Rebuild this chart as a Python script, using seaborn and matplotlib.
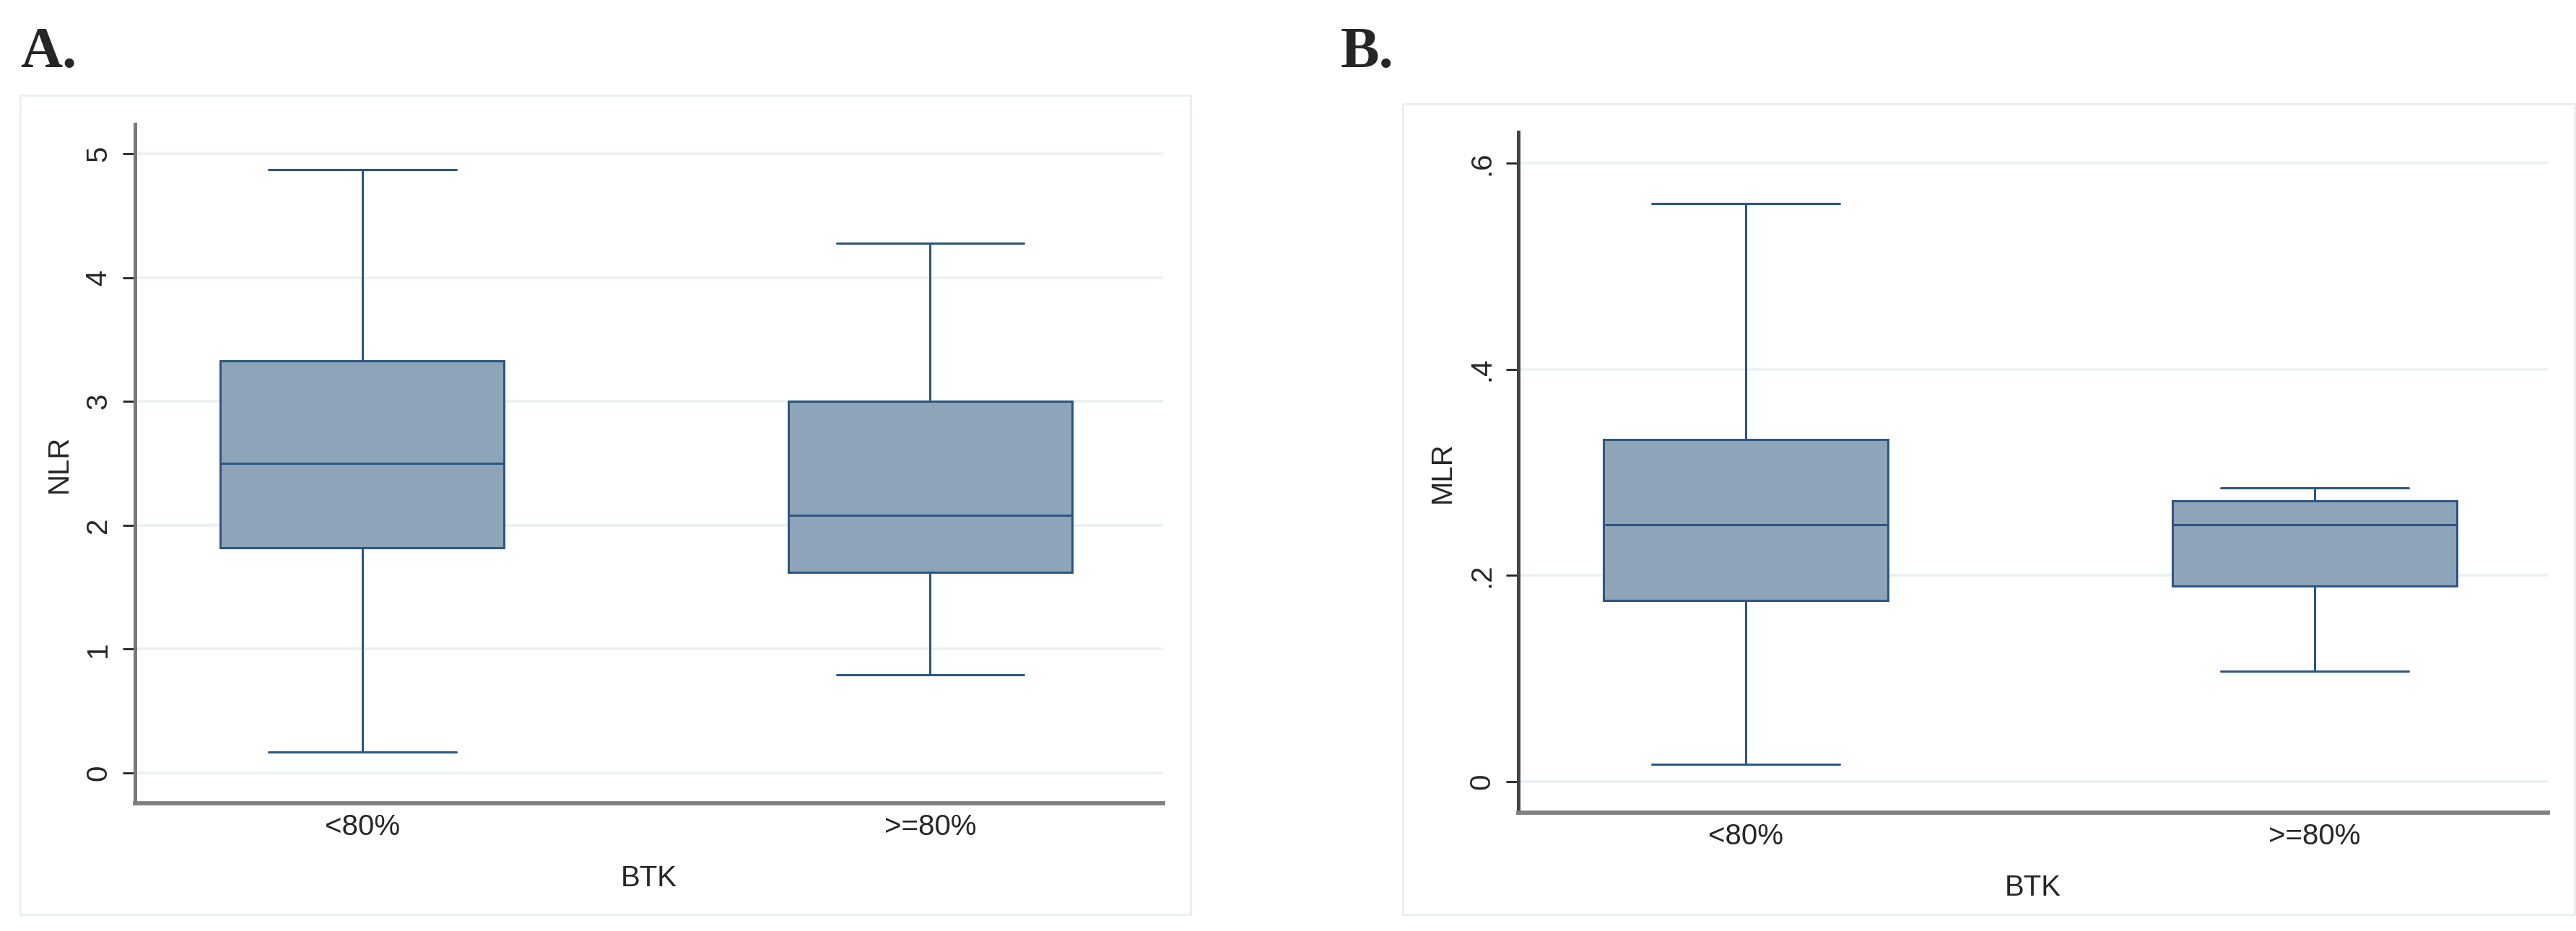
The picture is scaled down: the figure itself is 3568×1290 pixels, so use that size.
import pandas as pd
import seaborn as sns
import matplotlib.pyplot as plt
from matplotlib.patches import Rectangle

# Categories on the x axis
groups = ['<80%', '>=80%']

# Five-number summaries: min, Q1, median, Q3, max
nlr_lt80 = [0.17, 1.82, 2.50, 3.33, 4.87]
nlr_ge80 = [0.79, 1.62, 2.08, 3.00, 4.28]
mlr_lt80 = [0.017, 0.176, 0.249, 0.332, 0.561]
mlr_ge80 = [0.107, 0.190, 0.249, 0.272, 0.285]

# Y tick positions and their labels (Stata style)
nlr_ticks = [0, 1, 2, 3, 4, 5]
nlr_ticklabels = ['0', '1', '2', '3', '4', '5']
mlr_ticks = [0, 0.2, 0.4, 0.6]
mlr_ticklabels = ['0', '.2', '.4', '.6']

nlr_df = pd.DataFrame({'BTK': [groups[0]] * 5 + [groups[1]] * 5,
                       'NLR': nlr_lt80 + nlr_ge80})
mlr_df = pd.DataFrame({'BTK': [groups[0]] * 5 + [groups[1]] * 5,
                       'MLR': mlr_lt80 + mlr_ge80})

sns.set_style('white')
plt.rcParams['font.family'] = ['Liberation Sans', 'DejaVu Sans']

fill_color = '#8EA4B9'
line_color = '#2E5681'
grid_color = '#EAF1F3'
frame_color = '#E8EFF1'
font_size = 29

fig = plt.figure(figsize=(35.68, 12.9), dpi=100)
ax_a = fig.add_axes([0.05241, 0.13721, 0.39910, 0.72946])
ax_b = fig.add_axes([0.58941, 0.12713, 0.39966, 0.73101])


def draw_panel(ax, df, col, ticks, ticklabels, ylim, left_color):
    sns.boxplot(data=df, x='BTK', y=col, order=groups, ax=ax,
                whis=(0, 100), width=0.5, color=fill_color, saturation=1,
                linecolor=line_color, linewidth=2.2, showfliers=False,
                capwidths=0.33)
    ax.set_xlim(-0.40, 1.41)
    ax.set_ylim(*ylim)
    ax.set_yticks(ticks)
    ax.set_yticklabels(ticklabels)
    ax.set_axisbelow(True)
    ax.yaxis.grid(True, color=grid_color, linewidth=2.6)
    ax.xaxis.grid(False)
    ax.set_facecolor('white')
    sns.despine(ax=ax)
    ax.spines['left'].set_color(left_color)
    ax.spines['left'].set_linewidth(3.6)
    ax.spines['bottom'].set_color('#808080')
    ax.spines['bottom'].set_linewidth(4.2)
    ax.tick_params(axis='y', length=12, width=2, color='#222222',
                   pad=11, labelsize=font_size, labelrotation=90, left=True)
    for lbl in ax.get_yticklabels():
        lbl.set_va('center')
    ax.tick_params(axis='x', length=0, pad=10, labelsize=font_size)
    ax.set_xlabel('BTK', fontsize=font_size, labelpad=24)
    ax.set_ylabel(col, fontsize=font_size, labelpad=12)


draw_panel(ax_a, nlr_df, 'NLR', nlr_ticks, nlr_ticklabels, (-0.245, 5.239), '#787878')
draw_panel(ax_b, mlr_df, 'MLR', mlr_ticks, mlr_ticklabels, (-0.0301, 0.630), '#444444')

# light graph-region frames around each panel
fig.add_artist(Rectangle((0.00785, 0.01783), 0.45432, 0.87984, transform=fig.transFigure,
                         fill=False, edgecolor=frame_color, linewidth=2))
fig.add_artist(Rectangle((0.54456, 0.01783), 0.45488, 0.87054, transform=fig.transFigure,
                         fill=False, edgecolor=frame_color, linewidth=2))

# panel letters
fig.text(28 / 3568, 1 - 93 / 1290, 'A.', fontsize=58, fontweight='bold',
         family=['Liberation Serif', 'DejaVu Serif'], ha='left', va='baseline')
fig.text(1857 / 3568, 1 - 93 / 1290, 'B.', fontsize=58, fontweight='bold',
         family=['Liberation Serif', 'DejaVu Serif'], ha='left', va='baseline')

fig.savefig('out.png', dpi=100)
